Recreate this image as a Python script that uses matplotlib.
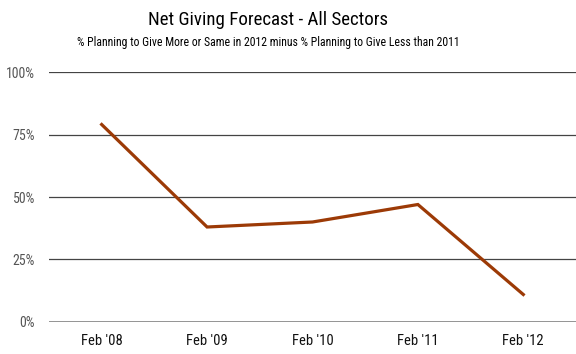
import matplotlib.pyplot as plt
from matplotlib import font_manager

years = ["Feb '08", "Feb '09", "Feb '10", "Feb '11", "Feb '12"]
net_giving = [79, 38, 40, 47, 11]
y_ticks = [0, 25, 50, 75, 100]

# prefer a condensed face; sizes below are tuned for one
names = {f.name for f in font_manager.fontManager.ttflist}
narrow = [n for n in ('Liberation Sans Narrow', 'Roboto Condensed') if n in names]
plt.rcParams['font.family'] = narrow + ['Roboto', 'DejaVu Sans']
k = 1.0 if narrow else 0.87

fig = plt.figure(figsize=(5.76, 3.54), dpi=100)
ax = fig.add_axes([0.085, 0.0904, 0.915, 0.7062])

x = list(range(len(years)))
ax.plot(x, net_giving, color='#9c3a06', linewidth=2.3, solid_joinstyle='miter')

for t in y_ticks:
    if t == 0:
        ax.axhline(t, color='#8a8a8a', linewidth=2, zorder=0)
    else:
        ax.axhline(t, color='#444444', linewidth=0.9, zorder=0)

ax.set_xlim(-0.5, 4.5)
ax.set_ylim(0, 100)
ax.set_xticks(x)
ax.set_xticklabels(years, fontsize=10.5 * k, color='#111111')
ax.set_yticks(y_ticks)
ax.set_yticklabels([f'{t}%' for t in y_ticks], fontsize=10 * k, color='#555555')
ax.tick_params(length=0)
ax.tick_params(axis='y', pad=10)
ax.tick_params(axis='x', pad=9)
for s in ax.spines.values():
    s.set_visible(False)

fig.text(0.466, 0.943, 'Net Giving Forecast - All Sectors', ha='center', va='center', fontsize=13.6 * k)
fig.text(0.466, 0.88, '% Planning to Give More or Same in 2012 minus % Planning to Give Less than 2011',
         ha='center', va='center', fontsize=8.5 * k)

fig.savefig('out.png', dpi=100)
